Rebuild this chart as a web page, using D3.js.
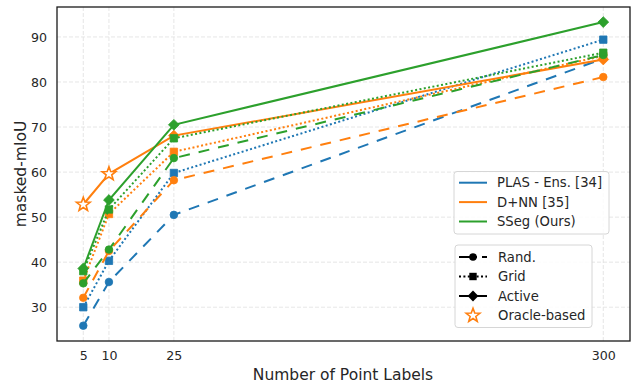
<!DOCTYPE html>
<html><head><meta charset="utf-8">
<script src="https://cdn.jsdelivr.net/npm/d3@7"></script>
<style>body{margin:0;background:#fff}svg{display:block;font-family:"DejaVu Sans",sans-serif}</style>
</head><body><svg id="c" width="638" height="383"></svg>
<script>
const xValues = [5, 10, 25, 300];
const xTicks = [5, 10, 25, 300];
const yTicks = [30, 40, 50, 60, 70, 80, 90];
const methods = ["PLAS - Ens. [34]", "D+NN [35]", "SSeg (Ours)"];
const strategies = ["Rand.", "Grid", "Active"];
const plasRand = [25.9, 35.6, 50.5, 85.2];
const plasGrid = [30.0, 40.3, 59.8, 89.4];
const dnnRand = [32.1, 42.5, 58.2, 81.1];
const dnnGrid = [35.9, 50.7, 64.5, 85.8];
const dnnActive = [52.8, 59.6, 68.1, 85.0];
const dnnOracle = [true, true, false, false];
const ssegRand = [35.3, 42.8, 63.1, 86.0];
const ssegGrid = [38.0, 51.7, 67.5, 86.5];
const ssegActive = [38.6, 53.8, 70.5, 93.3];

const colors = {"PLAS - Ens. [34]": "#1f77b4", "D+NN [35]": "#ff7f0e", "SSeg (Ours)": "#2ca02c"};
const styles = {
  "Rand.": {dash: "11,9", marker: "circle"},
  "Grid": {dash: "2,2.4", marker: "square"},
  "Active": {dash: null, marker: "diamond"}
};
const series = [
  {method: methods[0], strat: "Rand.", values: plasRand},
  {method: methods[0], strat: "Grid", values: plasGrid},
  {method: methods[1], strat: "Rand.", values: dnnRand},
  {method: methods[1], strat: "Grid", values: dnnGrid},
  {method: methods[1], strat: "Active", values: dnnActive, oracle: dnnOracle},
  {method: methods[2], strat: "Rand.", values: ssegRand},
  {method: methods[2], strat: "Grid", values: ssegGrid},
  {method: methods[2], strat: "Active", values: ssegActive}
];

const svg = d3.select("#c");
const L = 57, R = 630, T = 7, B = 341;
const x = d3.scaleSymlog().constant(45).domain([0.35, 336]).range([L, R]);
const y = d3.scaleLinear().domain([22.5, 96.65]).range([B, T]);

// grid
const g = svg.append("g");
g.selectAll(".gx").data(xTicks).join("line")
  .attr("x1", d => x(d)).attr("x2", d => x(d)).attr("y1", T).attr("y2", B)
  .attr("stroke", "#e3e3e3").attr("stroke-width", 0.9).attr("stroke-dasharray", "4,2");
g.selectAll(".gy").data(yTicks).join("line")
  .attr("y1", d => y(d)).attr("y2", d => y(d)).attr("x1", L).attr("x2", R)
  .attr("stroke", "#e3e3e3").attr("stroke-width", 0.9).attr("stroke-dasharray", "4,2");

// axes labels
const xAxis = d3.axisBottom(x).tickValues(xTicks).tickSize(0).tickPadding(10).tickFormat(d3.format("d"));
const yAxis = d3.axisLeft(y).tickValues(yTicks).tickSize(0).tickPadding(10);
const ax = svg.append("g").attr("transform", `translate(0,${B})`).call(xAxis);
const ay = svg.append("g").attr("transform", `translate(${L},0)`).call(yAxis);
[ax, ay].forEach(a => {
  a.select(".domain").remove();
  a.selectAll("text").attr("font-size", 12.6).attr("fill", "#262626").attr("font-family", "DejaVu Sans");
});

function markerPath(type) {
  if (type === "circle") return d3.symbol(d3.symbolCircle, Math.PI * 3.8 * 3.8)();
  if (type === "square") return d3.symbol(d3.symbolSquare, 7.4 * 7.4)();
  if (type === "diamond") { const r = 5.4; return `M0,${-r}L${r},0L0,${r}L${-r},0Z`; }
  if (type === "star") {
    const ro = 7.2, ri = 3.0; let p = "";
    for (let i = 0; i < 10; i++) {
      const a = -Math.PI / 2 + i * Math.PI / 5, r = i % 2 ? ri : ro;
      p += (i ? "L" : "M") + (r * Math.cos(a)).toFixed(2) + "," + (r * Math.sin(a)).toFixed(2);
    }
    return p + "Z";
  }
}

const line = d3.line().x((d, i) => x(xValues[i])).y(d => y(d));
const plot = svg.append("g");
series.forEach(s => {
  const c = colors[s.method], st = styles[s.strat];
  const gg = plot.append("g");
  gg.append("path").attr("d", line(s.values)).attr("fill", "none").attr("stroke", c)
    .attr("stroke-width", 2).attr("stroke-dasharray", st.dash);
  s.values.forEach((v, i) => {
    const isOracle = s.oracle && s.oracle[i];
    gg.append("path").attr("d", markerPath(isOracle ? "star" : st.marker))
      .attr("transform", `translate(${x(xValues[i])},${y(v)})`)
      .attr("fill", isOracle ? "#fff" : c).attr("stroke", c).attr("stroke-width", isOracle ? 1.6 : 0.8)
      .attr("stroke-linejoin", "miter");
  });
});

// frame
svg.append("rect").attr("x", L).attr("y", T).attr("width", R - L).attr("height", B - T)
  .attr("fill", "none").attr("stroke", "#1a1a1a").attr("stroke-width", 1.3);

// axis titles
svg.append("text").attr("x", 343).attr("y", 379.5).attr("text-anchor", "middle")
  .attr("font-size", 15.5).attr("fill", "#262626").text("Number of Point Labels");
svg.append("text").attr("transform", `translate(25.5,${(T + B) / 2}) rotate(-90)`).attr("text-anchor", "middle")
  .attr("font-size", 15.5).attr("fill", "#262626").text("masked-mIoU");

// legend 1
const l1 = svg.append("g");
l1.append("rect").attr("x", 454).attr("y", 171.5).attr("width", 155).attr("height", 62.5).attr("rx", 3)
  .attr("fill", "#fff").attr("fill-opacity", 0.85).attr("stroke", "#d6d6d6");
methods.forEach((m, i) => {
  const yy = 182.7 + i * 19.4;
  l1.append("line").attr("x1", 459).attr("x2", 487).attr("y1", yy).attr("y2", yy)
    .attr("stroke", colors[m]).attr("stroke-width", 2);
  l1.append("text").attr("x", 497).attr("y", yy).attr("dy", "0.36em").attr("font-size", 13.2)
    .attr("fill", "#262626").text(m);
});

// legend 2
const l2 = svg.append("g");
l2.append("rect").attr("x", 455).attr("y", 245).attr("width", 137).attr("height", 82.5).attr("rx", 3)
  .attr("fill", "#fff").attr("fill-opacity", 0.85).attr("stroke", "#d6d6d6");
const legItems = strategies.concat(["Oracle-based"]);
legItems.forEach((k, i) => {
  const yy = 257 + i * 19.5;
  if (k === "Oracle-based") {
    l2.append("path").attr("d", markerPath("star")).attr("transform", `translate(473,${yy})`)
      .attr("fill", "#fff").attr("stroke", colors[methods[1]]).attr("stroke-width", 1.6);
  } else {
    const st = styles[k];
    l2.append("line").attr("x1", 459).attr("x2", 487).attr("y1", yy).attr("y2", yy)
      .attr("stroke", "#000").attr("stroke-width", 2).attr("stroke-dasharray", k === "Rand." ? "18,5" : st.dash);
    l2.append("path").attr("d", markerPath(st.marker)).attr("transform", `translate(473,${yy})`).attr("fill", "#000");
  }
  l2.append("text").attr("x", 498).attr("y", yy).attr("dy", "0.36em").attr("font-size", 13.2)
    .attr("fill", "#262626").text(k);
});
</script></body></html>
